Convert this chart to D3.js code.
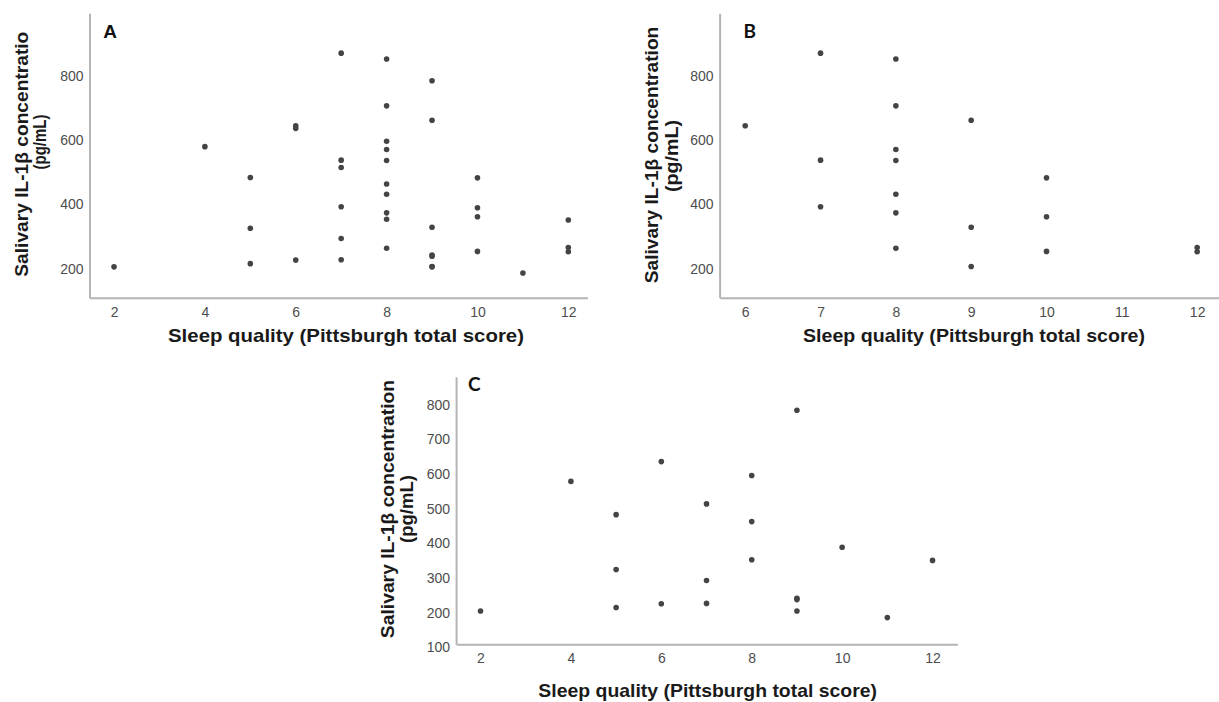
<!DOCTYPE html>
<html>
<head>
<meta charset="utf-8">
<script src="https://cdn.jsdelivr.net/npm/d3@7.9.0/dist/d3.min.js"></script>
<style>
  html, body { margin: 0; padding: 0; background: #fff; }
  svg { display: block; font-family: "Liberation Sans", Arial, sans-serif; }
  .axis .domain { stroke: #b4b4b4; stroke-width: 2; }
  .axis text { font-size: 14px; fill: #4d4d4d; font-family: "Liberation Sans", Arial, sans-serif; }
</style>
</head>
<body>
<svg id="chart" width="1219" height="702"></svg>
<script>
// group B (Pittsburgh score, IL-1β pg/mL)
const scoresB = [6, 7, 7, 7, 8, 8, 8, 8, 8, 8, 8, 9, 9, 9, 10, 10, 10, 12, 12];
const il1bB   = [635, 861, 528, 383, 843, 697, 561, 527, 422, 364, 254, 652, 319, 197, 473, 352, 244, 256, 243];

// group C
const scoresC = [2, 4, 5, 5, 5, 6, 6, 7, 7, 7, 8, 8, 8, 9, 9, 9, 9, 10, 11, 12];
const il1bC   = [196, 570, 474, 316, 206, 627, 217, 505, 284, 218, 587, 454, 344, 775, 233, 229, 196, 380, 177, 342];

// panel A shows everyone
const scoresA = scoresB.concat(scoresC);
const il1bA   = il1bB.concat(il1bC);

const xTicksA = [2, 4, 6, 8, 10, 12];
const xTicksB = [6, 7, 8, 9, 10, 11, 12];
const xTicksC = [2, 4, 6, 8, 10, 12];
const yTicksAB = [200, 400, 600, 800];
const yTicksC = [100, 200, 300, 400, 500, 600, 700, 800];

const xTitle = "Sleep quality (Pittsburgh total score)";
const yTitleShort = "Salivary IL-1β concentratio";
const yTitleFull = "Salivary IL-1β concentration";
const yUnit = "(pg/mL)";

const svg = d3.select("#chart");

const panels = [
  {
    letter: "A", letterFont: "'Liberation Sans', Arial, sans-serif", letterPos: [110, 31],
    xs: scoresA, ys: il1bA, xTicks: xTicksA, yTicks: yTicksAB,
    xDomain: [1.46, 12.42], xRange: [89.5, 587.4],
    yDomain: [100, 985], yRange: [297.7, 13.3],
    yTitle: yTitleShort, yLine1: { x: 21.7, cy: 154.2, len: 245 }, yLine2: { x: 39, cy: 142, len: 55 },
    xTitlePos: { cx: 346, y: 341.5, len: 356 }
  },
  {
    letter: "B", letterFont: "Lato, 'Open Sans', sans-serif", letterPos: [749.7, 30.5],
    xs: scoresB, ys: il1bB, xTicks: xTicksB, yTicks: yTicksAB,
    xDomain: [5.66, 12.29], xRange: [719.6, 1219],
    yDomain: [100, 985], yRange: [297.7, 13.3],
    yTitle: yTitleFull, yLine1: { x: 651.3, cy: 155, len: 256.6 }, yLine2: { x: 671, cy: 156, len: 72 },
    xTitlePos: { cx: 974, y: 341.5, len: 342 }
  },
  {
    letter: "C", letterFont: "Lato, 'Open Sans', sans-serif", letterPos: [474.3, 383],
    xs: scoresC, ys: il1bC, xTicks: xTicksC, yTicks: yTicksC,
    xDomain: [1.46, 12.55], xRange: [456.1, 957.4],
    yDomain: [100, 872], yRange: [644.3, 376.7],
    yTitle: yTitleFull, yLine1: { x: 387.2, cy: 509, len: 258.3 }, yLine2: { x: 406.4, cy: 509, len: 68 },
    xTitlePos: { cx: 707.7, y: 696.7, len: 338.7 }
  }
];

function drawPanel(p) {
  const x = d3.scaleLinear().domain(p.xDomain).range(p.xRange);
  const y = d3.scaleLinear().domain(p.yDomain).range(p.yRange);
  const g = svg.append("g");

  // axes (no tick marks, light grey lines)
  g.append("g")
    .attr("class", "axis")
    .attr("transform", `translate(0,${p.yRange[0]})`)
    .call(d3.axisBottom(x).tickValues(p.xTicks).tickSize(0).tickPadding(9).tickFormat(d3.format("d")));

  const yAxis = g.append("g")
    .attr("class", "axis")
    .attr("transform", `translate(${p.xRange[0]},0)`)
    .call(d3.axisLeft(y).tickValues(p.yTicks).tickSize(0).tickPadding(6).tickFormat(d3.format("d")));
  yAxis.selectAll(".tick text").attr("y", 3);

  // points
  g.selectAll("circle")
    .data(p.xs.map((v, i) => [v, p.ys[i]]))
    .join("circle")
    .attr("cx", d => x(d[0]))
    .attr("cy", d => y(d[1]))
    .attr("r", 2.8)
    .attr("fill", "#444");

  // panel letter
  g.append("text")
    .attr("x", p.letterPos[0])
    .attr("y", p.letterPos[1])
    .attr("text-anchor", "middle")
    .attr("dominant-baseline", "central")
    .style("font-family", p.letterFont)
    .style("font-weight", "bold")
    .style("font-size", "19px")
    .attr("fill", "#111")
    .text(p.letter);

  // y title, two lines
  [[p.yTitle, p.yLine1], [yUnit, p.yLine2]].forEach(([txt, pos]) => {
    g.append("text")
      .attr("transform", `translate(${pos.x},${pos.cy}) rotate(-90)`)
      .attr("text-anchor", "middle")
      .attr("dominant-baseline", "central")
      .attr("textLength", pos.len)
      .attr("lengthAdjust", "spacingAndGlyphs")
      .style("font-weight", "bold")
      .style("font-size", "19px")
      .attr("fill", "#1a1a1a")
      .text(txt);
  });

  // x title
  g.append("text")
    .attr("x", p.xTitlePos.cx)
    .attr("y", p.xTitlePos.y)
    .attr("text-anchor", "middle")
    .attr("textLength", p.xTitlePos.len)
    .attr("lengthAdjust", "spacingAndGlyphs")
    .style("font-weight", "bold")
    .style("font-size", "19px")
    .attr("fill", "#1a1a1a")
    .text(xTitle);
}

panels.forEach(drawPanel);
</script>
</body>
</html>
